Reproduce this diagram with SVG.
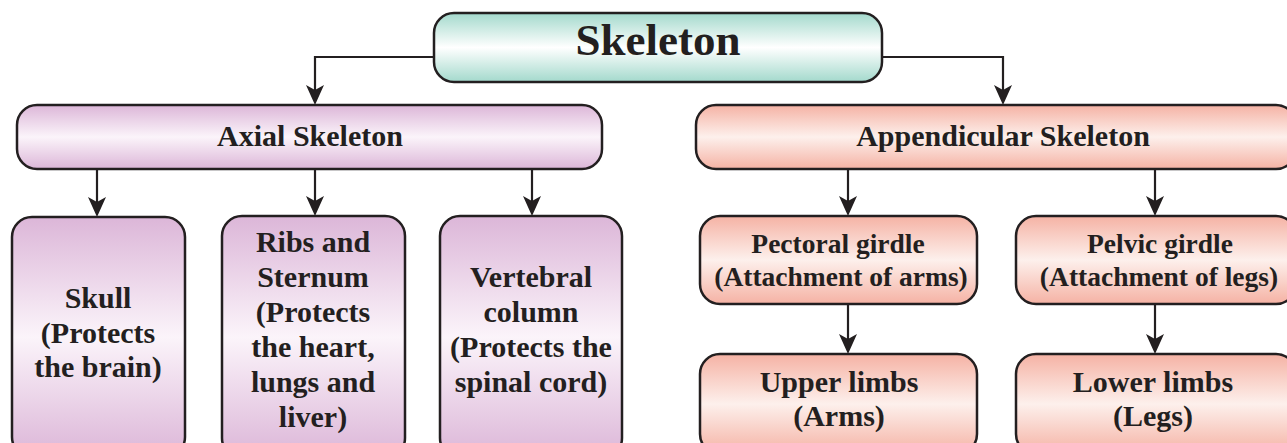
<svg xmlns="http://www.w3.org/2000/svg" width="1287" height="443" viewBox="0 0 1287 443">
<defs>
<linearGradient id="gTeal" x1="0" y1="0" x2="0" y2="1">
<stop offset="0" stop-color="#a3d9cc"/><stop offset="0.5" stop-color="#ffffff"/><stop offset="1" stop-color="#a3d9cc"/>
</linearGradient>
<linearGradient id="gPurple" x1="0" y1="0" x2="0" y2="1">
<stop offset="0" stop-color="#dcb6d8"/><stop offset="0.5" stop-color="#fbf4fa"/><stop offset="1" stop-color="#dcb6d8"/>
</linearGradient>
<linearGradient id="gSalmon" x1="0" y1="0" x2="0" y2="1">
<stop offset="0" stop-color="#f5b2a4"/><stop offset="0.5" stop-color="#fdf0ec"/><stop offset="1" stop-color="#f5b2a4"/>
</linearGradient>
<marker id="arr" viewBox="0 0 20 18" refX="14" refY="9" markerWidth="20" markerHeight="18" markerUnits="userSpaceOnUse" orient="auto">
<path d="M0,0 L20,9 L0,18 L5,9 Z" fill="#231f20"/>
</marker>
</defs>
<style>
.box{stroke:#231f20;stroke-width:2.5}
.t{font-family:"Liberation Serif","Times New Roman",serif;font-weight:bold;fill:#231f20;text-anchor:middle}
.lbl{font-size:30px}
.sm{font-size:27.5px}
.conn{fill:none;stroke:#231f20;stroke-width:2.2}
</style>
<g id="connectors">
<path class="conn" d="M434,57 H315 V99" marker-end="url(#arr)"/>
<path class="conn" d="M882,57 H1003 V99" marker-end="url(#arr)"/>
<path class="conn" d="M97,169 V211" marker-end="url(#arr)"/>
<path class="conn" d="M315,169 V210" marker-end="url(#arr)"/>
<path class="conn" d="M532,169 V210" marker-end="url(#arr)"/>
<path class="conn" d="M848,169 V210" marker-end="url(#arr)"/>
<path class="conn" d="M1155,169 V210" marker-end="url(#arr)"/>
<path class="conn" d="M848,304 V348" marker-end="url(#arr)"/>
<path class="conn" d="M1155,304 V348" marker-end="url(#arr)"/>
</g>
<g id="skeleton">
<rect class="box" x="434" y="13" width="448" height="69" rx="20" fill="url(#gTeal)"/>
<text class="t" x="658" y="55" font-size="45">Skeleton</text>
</g>
<g id="axial">
<rect class="box" x="17" y="105" width="585" height="64" rx="20" fill="url(#gPurple)"/>
<text class="t lbl" x="310" y="146">Axial Skeleton</text>
</g>
<g id="appendicular">
<rect class="box" x="696" y="105" width="600" height="64" rx="20" fill="url(#gSalmon)"/>
<text class="t lbl" x="1003" y="146">Appendicular Skeleton</text>
</g>
<g id="skull">
<rect class="box" x="12" y="217" width="173" height="240" rx="20" fill="url(#gPurple)"/>
<text class="t lbl"><tspan x="98" y="308">Skull</tspan><tspan x="98" y="343">(Protects</tspan><tspan x="98" y="377">the brain)</tspan></text>
</g>
<g id="ribs">
<rect class="box" x="222" y="216" width="183" height="242" rx="20" fill="url(#gPurple)"/>
<text class="t lbl"><tspan x="313" y="252">Ribs and</tspan><tspan x="313" y="287">Sternum</tspan><tspan x="313" y="322">(Protects</tspan><tspan x="313" y="357">the heart,</tspan><tspan x="313" y="392">lungs and</tspan><tspan x="313" y="427">liver)</tspan></text>
</g>
<g id="vertebral">
<rect class="box" x="440" y="216" width="182" height="242" rx="20" fill="url(#gPurple)"/>
<text class="t lbl"><tspan x="531" y="287">Vertebral</tspan><tspan x="531" y="322">column</tspan><tspan x="531" y="357">(Protects the</tspan><tspan x="531" y="392">spinal cord)</tspan></text>
</g>
<g id="pectoral">
<rect class="box" x="700" y="216" width="277" height="88" rx="20" fill="url(#gSalmon)"/>
<text class="t sm"><tspan x="838" y="253">Pectoral girdle</tspan><tspan x="841" y="286">(Attachment of arms)</tspan></text>
</g>
<g id="pelvic">
<rect class="box" x="1016" y="216" width="280" height="88" rx="20" fill="url(#gSalmon)"/>
<text class="t sm"><tspan x="1160" y="253">Pelvic girdle</tspan><tspan x="1159" y="286">(Attachment of legs)</tspan></text>
</g>
<g id="upper">
<rect class="box" x="700" y="354" width="277" height="100" rx="20" fill="url(#gSalmon)"/>
<text class="t lbl"><tspan x="839" y="392">Upper limbs</tspan><tspan x="839" y="426">(Arms)</tspan></text>
</g>
<g id="lower">
<rect class="box" x="1016" y="354" width="280" height="100" rx="20" fill="url(#gSalmon)"/>
<text class="t lbl"><tspan x="1153" y="392">Lower limbs</tspan><tspan x="1153" y="426">(Legs)</tspan></text>
</g>
</svg>
